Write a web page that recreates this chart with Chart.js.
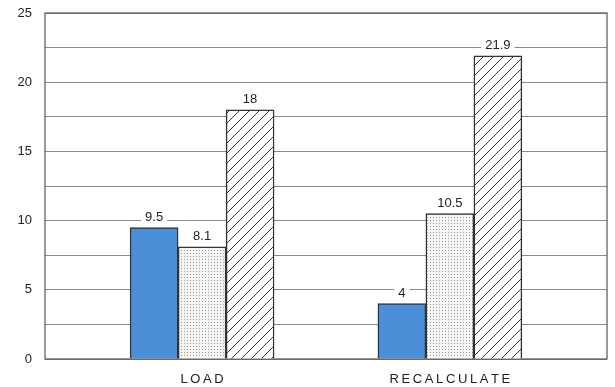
<!DOCTYPE html>
<html>
<head>
<meta charset="utf-8">
<script src="https://cdn.jsdelivr.net/npm/chart.js@4"></script>
<style>
  html, body { margin: 0; padding: 0; background: #fff; }
  #wrap { width: 615px; height: 387px; }
</style>
</head>
<body>
<div id="wrap"><canvas id="benchChart"></canvas></div>
<script>
// chart data
const categories = ['LOAD', 'RECALCULATE'];
const seriesA = [9.5, 4];      // solid blue
const seriesB = [8.1, 10.5];   // dotted
const seriesC = [18, 21.9];    // hatched
const yTicks = [0, 5, 10, 15, 20, 25];

// small canvas patterns for the bar fills
function dotPattern() {
    const c = document.createElement('canvas');
    c.width = 3; c.height = 3;
    const g = c.getContext('2d');
    g.fillStyle = '#f6f6f4';
    g.fillRect(0, 0, 3, 3);
    g.fillStyle = '#9a9a96';
    g.fillRect(1, 1, 1, 1);
    return g.createPattern(c, 'repeat');
}

function hatchPattern() {
    const s = 10;
    const c = document.createElement('canvas');
    c.width = s; c.height = s;
    const g = c.getContext('2d');
    g.fillStyle = '#fff';
    g.fillRect(0, 0, s, s);
    g.strokeStyle = '#333';
    g.lineWidth = 1;
    g.beginPath();
    g.moveTo(0, s); g.lineTo(s, 0);
    g.moveTo(-1, 1); g.lineTo(1, -1);
    g.moveTo(s - 1, s + 1); g.lineTo(s + 1, s - 1);
    g.stroke();
    return g.createPattern(c, 'repeat');
}

// x positions of the groups (1, 2, ...) on a linear axis
function points(values) {
    return values.map((v, i) => ({ x: i + 1, y: v }));
}

// frame around the plot area
const framePlugin = {
    id: 'frame',
    beforeDatasetsDraw(chart) {
        const { ctx, chartArea: a } = chart;
        ctx.save();
        ctx.strokeStyle = '#55574a';
        ctx.lineWidth = 1.2;
        ctx.strokeRect(a.left, a.top, a.right - a.left, a.bottom - a.top);
        ctx.restore();
    }
};

// value labels above bars, with white background over gridlines
const valueLabels = {
    id: 'valueLabels',
    afterDatasetsDraw(chart) {
        const ctx = chart.ctx;
        ctx.save();
        ctx.font = '13px "Liberation Sans", Arial, sans-serif';
        ctx.textAlign = 'center';
        ctx.textBaseline = 'alphabetic';
        chart.data.datasets.forEach((ds, di) => {
            const meta = chart.getDatasetMeta(di);
            meta.data.forEach((bar, i) => {
                const txt = String(ds.data[i].y);
                const w = ctx.measureText(txt).width + 8;
                const yb = bar.y - 7;
                ctx.fillStyle = '#fff';
                ctx.fillRect(bar.x - w / 2, yb - 12, w, 15);
                ctx.fillStyle = '#222';
                ctx.fillText(txt, bar.x, yb);
            });
        });
        ctx.restore();
    }
};

function renderChart() {
    const ctx = document.getElementById('benchChart').getContext('2d');
    new Chart(ctx, {
        type: 'bar',
        data: {
            datasets: [
                { data: points(seriesA), backgroundColor: '#4a8fd8', borderColor: '#2b3440', borderWidth: 1.5 },
                { data: points(seriesB), backgroundColor: dotPattern(), borderColor: '#333', borderWidth: 1.5 },
                { data: points(seriesC), backgroundColor: hatchPattern(), borderColor: '#333', borderWidth: 1.5 }
            ]
        },
        options: {
            responsive: true,
            maintainAspectRatio: false,
            animation: false,
            barThickness: 48,
            layout: { padding: { top: 13, right: 8, left: 0, bottom: 0 } },
            plugins: { legend: { display: false }, tooltip: { enabled: false } },
            scales: {
                x: {
                    type: 'linear',
                    offset: false,
                    min: 0.366,
                    max: categories.length + 0.634,
                    afterBuildTicks: s => { s.ticks = categories.map((c, i) => ({ value: i + 1 })); },
                    afterFit: s => { s.height = 28; },
                    grid: { display: false },
                    border: { display: false },
                    ticks: {
                        padding: 5,
                        color: '#222',
                        font: { family: '"Liberation Sans", Arial, sans-serif', size: 13 },
                        callback: v => categories[v - 1] ? categories[v - 1].split('').join('\u2009') : ''
                    }
                },
                y: {
                    min: 0,
                    max: 25,
                    afterFit: s => {
                        s.width = 45;
                        // tick padding would otherwise push the plot top down
                        s.paddingTop = 0;
                        s.paddingBottom = 0;
                    },
                    ticks: {
                        stepSize: 2.5,
                        padding: 13,
                        color: '#222',
                        font: { family: '"Liberation Sans", Arial, sans-serif', size: 13 },
                        callback: v => yTicks.includes(v) ? String(v) : ''
                    },
                    grid: { color: '#8a8c7c', lineWidth: 1, drawTicks: false },
                    border: { display: false }
                }
            }
        },
        plugins: [framePlugin, valueLabels]
    });
}

document.addEventListener('DOMContentLoaded', function () {
    renderChart();
});
</script>
</body>
</html>
